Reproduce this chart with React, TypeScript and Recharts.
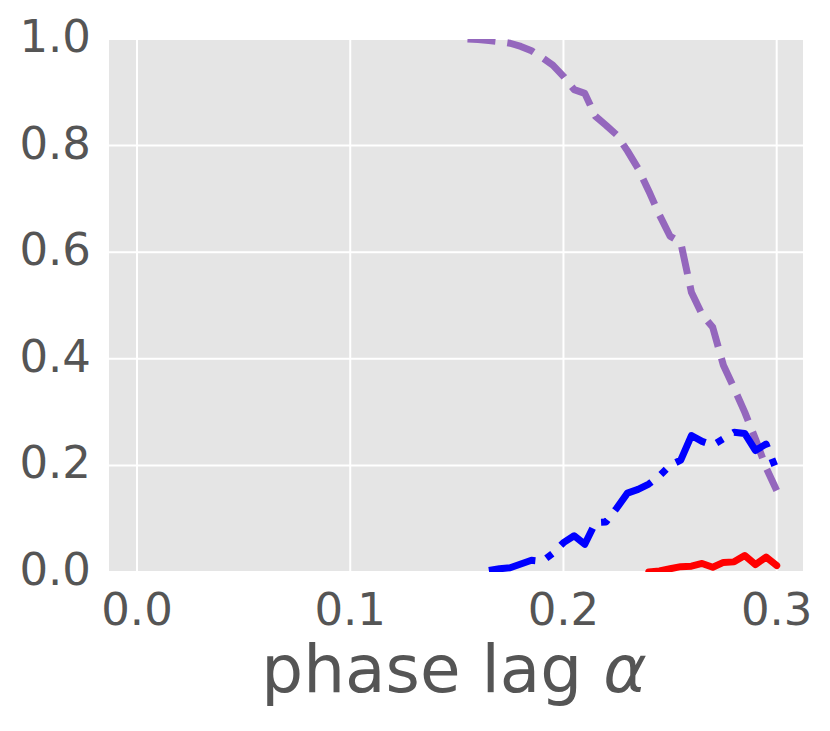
import React from "react";
import { LineChart, Line, XAxis, YAxis, CartesianGrid, Label } from "recharts";

const alphaValues = [
  0.155, 0.16, 0.165, 0.17, 0.175, 0.18, 0.185, 0.19, 0.195, 0.2, 0.205, 0.21,
  0.215, 0.22, 0.225, 0.23, 0.235, 0.24, 0.245, 0.25, 0.255, 0.26, 0.265, 0.27,
  0.275, 0.28, 0.285, 0.29, 0.295, 0.3,
];

const purpleValues = [
  1.0, 0.999, 0.997, 0.995, 0.992, 0.986, 0.978, 0.965, 0.951, 0.93, 0.905, 0.898,
  0.855, 0.838, 0.82, 0.79, 0.757, 0.715, 0.67, 0.63, 0.618, 0.525, 0.483, 0.459,
  0.388, 0.345, 0.3, 0.25, 0.196, 0.153,
];

const blueValues = [
  null, null, 0.003, 0.006, 0.008, 0.015, 0.022, 0.02, 0.035, 0.055, 0.068, 0.052,
  0.093, 0.094, 0.12, 0.148, 0.155, 0.165, 0.18, 0.2, 0.21, 0.256, 0.245, 0.238,
  0.25, 0.262, 0.26, 0.228, 0.24, 0.19,
];

const redValues = [
  null, null, null, null, null, null, null, null, null, null, null, null,
  null, null, null, null, null, 0.0, 0.002, 0.006, 0.01, 0.011, 0.016, 0.009,
  0.018, 0.019, 0.031, 0.014, 0.028, 0.012,
];

const xTicks = [0, 0.1, 0.2, 0.3];
const yTicks = [0, 0.2, 0.4, 0.6, 0.8, 1.0];

const data = alphaValues.map((a, i) => ({
  alpha: a,
  purple: purpleValues[i],
  blue: blueValues[i],
  red: redValues[i],
}));

const FONT = "'DejaVu Sans', sans-serif";
const TEXT = "#555555";

const YTick = (props: any) => {
  const { x, y, payload } = props;
  return (
    <text x={x} y={y} dy="0.29em" textAnchor="end" fill={TEXT} fontSize={45} fontFamily={FONT}>
      {Number(payload.value).toFixed(1)}
    </text>
  );
};

const XTick = (props: any) => {
  const { x, y, payload } = props;
  return (
    <text x={x} y={y} dy="0.71em" textAnchor="middle" fill={TEXT} fontSize={45} fontFamily={FONT}>
      {Number(payload.value).toFixed(1)}
    </text>
  );
};

const XLabel = (props: any) => {
  const vb = props.viewBox || {};
  const cx = (vb.x ?? 108) + (vb.width ?? 696) / 2 - 2;
  const y = (vb.y ?? 572) + 120;
  return (
    <text x={cx} y={y} textAnchor="middle" fill={TEXT} fontSize={66} fontFamily={FONT}>
      phase lag <tspan fontStyle="italic">α</tspan>
    </text>
  );
};

export default function App() {
  return (
    <div style={{ position: "absolute", left: 0, top: 0, width: 830, height: 731, background: "#fff" }}>
      <LineChart
        width={830}
        height={731}
        data={data}
        margin={{ top: 39, right: 26, left: 0, bottom: 9 }}
      >
        <CartesianGrid fill="#E5E5E5" stroke="#ffffff" strokeWidth={2} />
        <XAxis
          dataKey="alpha"
          type="number"
          domain={[-0.0136, 0.3128]}
          ticks={xTicks}
          allowDataOverflow
          axisLine={false}
          tickLine={false}
          tickSize={0}
          tickMargin={21}
          height={150}
          tick={<XTick />}
          interval={0}
        >
          <Label content={<XLabel />} />
        </XAxis>
        <YAxis
          type="number"
          domain={[0, 1]}
          ticks={yTicks}
          allowDataOverflow
          axisLine={false}
          tickLine={false}
          tickSize={0}
          tickMargin={17}
          width={108}
          tick={<YTick />}
          interval={0}
        />
        <Line
          dataKey="purple"
          stroke="#9467bd"
          strokeWidth={7}
          strokeDasharray="28 12"
          dot={false}
          activeDot={false}
          isAnimationActive={false}
          strokeLinejoin="round"
        />
        <Line
          dataKey="blue"
          stroke="#0000ff"
          strokeWidth={7}
          strokeDasharray="48 12 7.5 12"
          dot={false}
          activeDot={false}
          isAnimationActive={false}
          strokeLinejoin="round"
        />
        <Line
          dataKey="red"
          stroke="#ff0000"
          strokeWidth={7}
          dot={false}
          activeDot={false}
          isAnimationActive={false}
          strokeLinejoin="round"
          strokeLinecap="round"
        />
      </LineChart>
    </div>
  );
}
